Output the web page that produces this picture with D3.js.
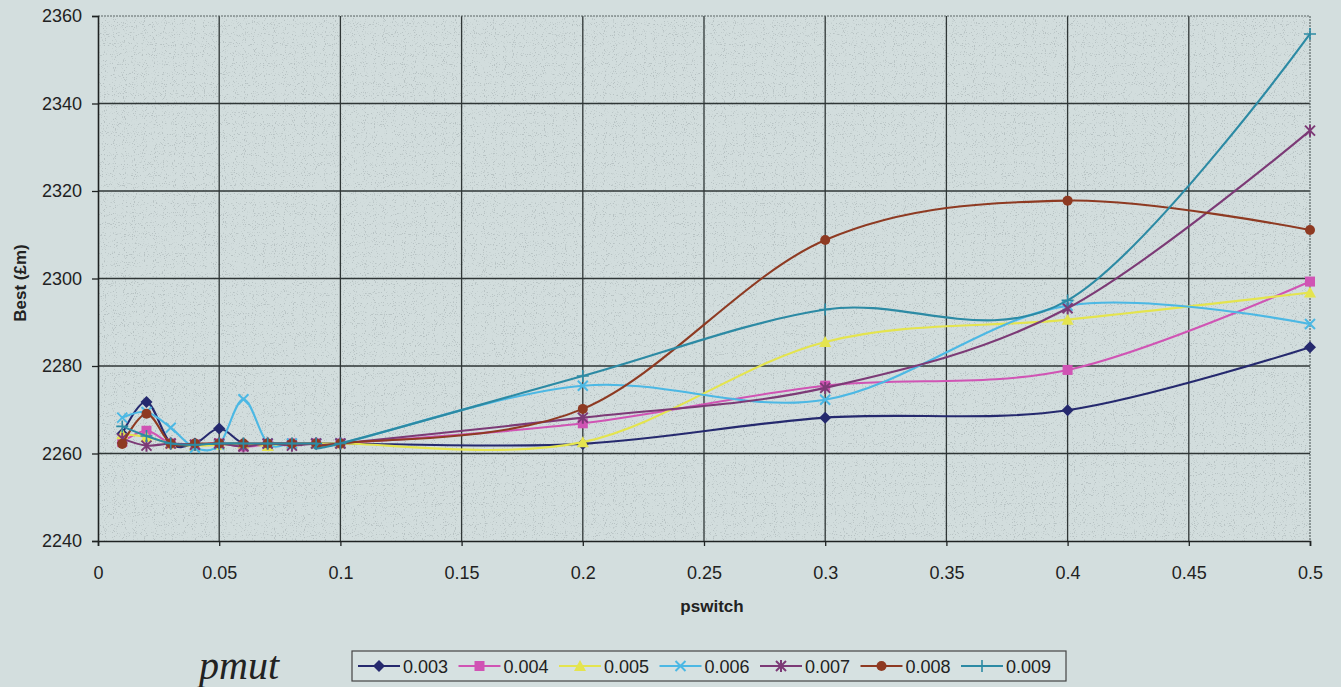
<!DOCTYPE html>
<html>
<head>
<meta charset="utf-8">
<script src="https://cdn.jsdelivr.net/npm/d3@7"></script>
<style>
  html, body { margin: 0; padding: 0; background: #d3dede; }
  svg { display: block; }
</style>
</head>
<body>
<svg id="chart" width="1341" height="687"></svg>
<script>
// pswitch values along the x axis
const pswitch = [0.01, 0.02, 0.03, 0.04, 0.05, 0.06, 0.07, 0.08, 0.09, 0.1, 0.2, 0.3, 0.4, 0.5];

// Best (£m) for each pmut setting
const pmut003 = [2264.5, 2271.8, 2262.3, 2262.3, 2265.7, 2262.3, 2262.3, 2262.3, 2262.3, 2262.3, 2262.2, 2268.2, 2269.9, 2284.3];
const pmut004 = [2262.6, 2265.2, 2262.3, 2262.0, 2262.3, 2261.6, 2262.0, 2262.3, 2262.3, 2262.3, 2266.9, 2275.5, 2279.1, 2299.3];
const pmut005 = [2264.4, 2263.8, 2262.3, 2261.8, 2262.0, 2262.3, 2261.7, 2262.3, 2262.3, 2262.3, 2262.6, 2285.5, 2290.6, 2296.8];
const pmut006 = [2268.2, 2269.5, 2265.9, 2261.3, 2262.0, 2272.4, 2262.3, 2262.3, 2262.3, 2262.3, 2275.5, 2272.3, 2293.8, 2289.6];
const pmut007 = [2263.4, 2261.8, 2262.3, 2262.0, 2262.3, 2261.6, 2262.3, 2261.8, 2262.3, 2262.3, 2268.2, 2275.0, 2293.2, 2333.8];
const pmut008 = [2262.2, 2269.1, 2262.3, 2262.3, 2262.3, 2262.3, 2262.3, 2262.3, 2262.3, 2262.3, 2270.2, 2308.8, 2317.8, 2311.1];
const pmut009 = [2266.2, 2264.0, 2262.3, 2262.0, 2262.3, 2262.3, 2262.3, 2262.3, 2262.3, 2262.3, 2277.7, 2292.9, 2295.0, 2355.9];

const seriesNames = ["0.003", "0.004", "0.005", "0.006", "0.007", "0.008", "0.009"];
const seriesValues = [pmut003, pmut004, pmut005, pmut006, pmut007, pmut008, pmut009];
const seriesColors = ["#25296e", "#d054b4", "#e4e44e", "#4cb8e4", "#7c3a76", "#8e3a22", "#2c8aa4"];
const seriesMarkers = ["diamond", "square", "triangle", "x", "star", "circle", "plus"];

const xTicks = [0, 0.05, 0.1, 0.15, 0.2, 0.25, 0.3, 0.35, 0.4, 0.45, 0.5];
const yTicks = [2240, 2260, 2280, 2300, 2320, 2340, 2360];

const svg = d3.select("#chart");
const plot = { left: 98, right: 1310, top: 16, bottom: 541 };

const x = d3.scaleLinear().domain([0, 0.5]).range([plot.left, plot.right]);
const y = d3.scaleLinear().domain([2240, 2360]).range([plot.bottom, plot.top]);

// Stippled fill of the plot area
const defs = svg.append("defs");
const f = defs.append("filter").attr("id", "stipple")
  .attr("x", 0).attr("y", 0).attr("width", 1).attr("height", 1);
f.append("feTurbulence").attr("type", "fractalNoise").attr("baseFrequency", 0.9)
  .attr("numOctaves", 1).attr("seed", 3).attr("result", "noise");
f.append("feColorMatrix").attr("in", "noise").attr("type", "matrix")
  .attr("values", "0 0 0 0 0.28  0 0 0 0 0.33  0 0 0 0 0.34  9 0 0 0 -5.4");
f.append("feComposite").attr("in2", "SourceGraphic").attr("operator", "in");

svg.append("rect")
  .attr("x", plot.left).attr("y", plot.top)
  .attr("width", plot.right - plot.left).attr("height", plot.bottom - plot.top)
  .attr("fill", "#d2dddd");
svg.append("rect")
  .attr("x", plot.left).attr("y", plot.top)
  .attr("width", plot.right - plot.left).attr("height", plot.bottom - plot.top)
  .attr("fill", "#000")
  .attr("opacity", 0.4)
  .attr("filter", "url(#stipple)");

// Gridlines
const grid = svg.append("g").attr("stroke", "#2f3636").attr("stroke-width", 1.3);
grid.selectAll("line.v").data(xTicks.filter(d => d > 0 && d < 0.5)).join("line")
  .attr("x1", d => x(d)).attr("x2", d => x(d))
  .attr("y1", plot.top).attr("y2", plot.bottom);
grid.selectAll("line.h").data(yTicks.filter(d => d > 2240 && d < 2360)).join("line")
  .attr("x1", plot.left).attr("x2", plot.right)
  .attr("y1", d => y(d)).attr("y2", d => y(d));

// Plot-area border on top and right
svg.append("path")
  .attr("d", `M${plot.left},${plot.top}H${plot.right}V${plot.bottom}`)
  .attr("fill", "none").attr("stroke", "#5d6666").attr("stroke-width", 1.2)
  .attr("stroke-dasharray", "2,1");

// Axes
const fontFam = "'Liberation Sans', Arial, sans-serif";
const xAxis = svg.append("g").attr("transform", `translate(0,${plot.bottom})`)
  .call(d3.axisBottom(x).tickValues(xTicks).tickFormat(d3.format("")).tickSize(5).tickPadding(20));
const yAxis = svg.append("g").attr("transform", `translate(${plot.left},0)`)
  .call(d3.axisLeft(y).tickValues(yTicks).tickFormat(d3.format("d")).tickSize(6).tickPadding(10));
[xAxis, yAxis].forEach(a => {
  a.select(".domain").attr("stroke", "#1e2222").attr("stroke-width", 1.6);
  a.selectAll(".tick line").attr("stroke", "#1e2222").attr("stroke-width", 1.3);
  a.selectAll(".tick text").attr("fill", "#222").attr("font-family", fontFam).attr("font-size", 18);
});
xAxis.selectAll(".tick text").attr("dy", "0.71em");

svg.append("text")
  .attr("x", 712).attr("y", 612)
  .attr("text-anchor", "middle")
  .attr("font-family", fontFam).attr("font-weight", "bold").attr("font-size", 17)
  .attr("fill", "#222").text("pswitch");

svg.append("text")
  .attr("transform", "translate(26,283) rotate(-90)")
  .attr("text-anchor", "middle")
  .attr("font-family", fontFam).attr("font-weight", "bold").attr("font-size", 17)
  .attr("fill", "#222").text("Best (£m)");

// Marker shapes
function marker(sel, type, color) {
  const s = 5;
  if (type === "diamond") {
    sel.append("path").attr("d", `M0,${-s - 1}L${s + 1},0L0,${s + 1}L${-s - 1},0Z`).attr("fill", color);
  } else if (type === "square") {
    sel.append("rect").attr("x", -s).attr("y", -s).attr("width", 2 * s).attr("height", 2 * s).attr("fill", color);
  } else if (type === "triangle") {
    sel.append("path").attr("d", `M0,${-s - 1}L${s + 1},${s}L${-s - 1},${s}Z`).attr("fill", color);
  } else if (type === "circle") {
    sel.append("circle").attr("r", s).attr("fill", color);
  } else if (type === "x") {
    sel.append("path").attr("d", `M${-s},${-s}L${s},${s}M${-s},${s}L${s},${-s}`)
      .attr("stroke", color).attr("stroke-width", 2).attr("fill", "none");
  } else if (type === "star") {
    sel.append("path").attr("d", `M${-s},${-s}L${s},${s}M${-s},${s}L${s},${-s}M0,${-s - 1}V${s + 1}`)
      .attr("stroke", color).attr("stroke-width", 2).attr("fill", "none");
  } else if (type === "plus") {
    sel.append("path").attr("d", `M${-s - 1},0H${s + 1}M0,${-s - 1}V${s + 1}`)
      .attr("stroke", color).attr("stroke-width", 1.6).attr("fill", "none");
  }
}

// Smoothed series lines with markers
const line = d3.line()
  .x(d => x(d[0])).y(d => y(d[1]))
  .curve(d3.curveCardinal.tension(0));

const series = seriesNames.map((name, i) => ({
  name, color: seriesColors[i], marker: seriesMarkers[i],
  points: pswitch.map((p, j) => [p, seriesValues[i][j]])
}));

const gSeries = svg.append("g");
series.forEach(s => {
  const g = gSeries.append("g");
  g.append("path").attr("d", line(s.points))
    .attr("fill", "none").attr("stroke", s.color).attr("stroke-width", 2.1)
    .attr("stroke-linejoin", "round");
  g.selectAll("g.m").data(s.points).join("g")
    .attr("transform", d => `translate(${x(d[0])},${y(d[1])})`)
    .each(function () { marker(d3.select(this), s.marker, s.color); });
});

// Legend
svg.append("text")
  .attr("x", 199).attr("y", 679)
  .attr("font-family", "'Liberation Serif', 'Times New Roman', serif")
  .attr("font-style", "italic").attr("font-size", 40)
  .attr("fill", "#222").text("pmut");

const legend = svg.append("g");
legend.append("rect")
  .attr("x", 352).attr("y", 651).attr("width", 714).attr("height", 30)
  .attr("fill", "#d6e1e1").attr("stroke", "#444").attr("stroke-width", 1.2);

const lx = d3.scalePoint().domain(seriesNames).range([358, 961]);
series.forEach(s => {
  const g = legend.append("g").attr("transform", `translate(${lx(s.name)},666)`);
  g.append("line").attr("x1", 0).attr("x2", 42).attr("y1", 0).attr("y2", 0)
    .attr("stroke", s.color).attr("stroke-width", 2.2);
  marker(g.append("g").attr("transform", "translate(21,0)"), s.marker, s.color);
  g.append("text").attr("x", 45).attr("y", 6.5)
    .attr("font-family", fontFam).attr("font-size", 18).attr("fill", "#222")
    .text(s.name);
});
</script>
</body>
</html>
